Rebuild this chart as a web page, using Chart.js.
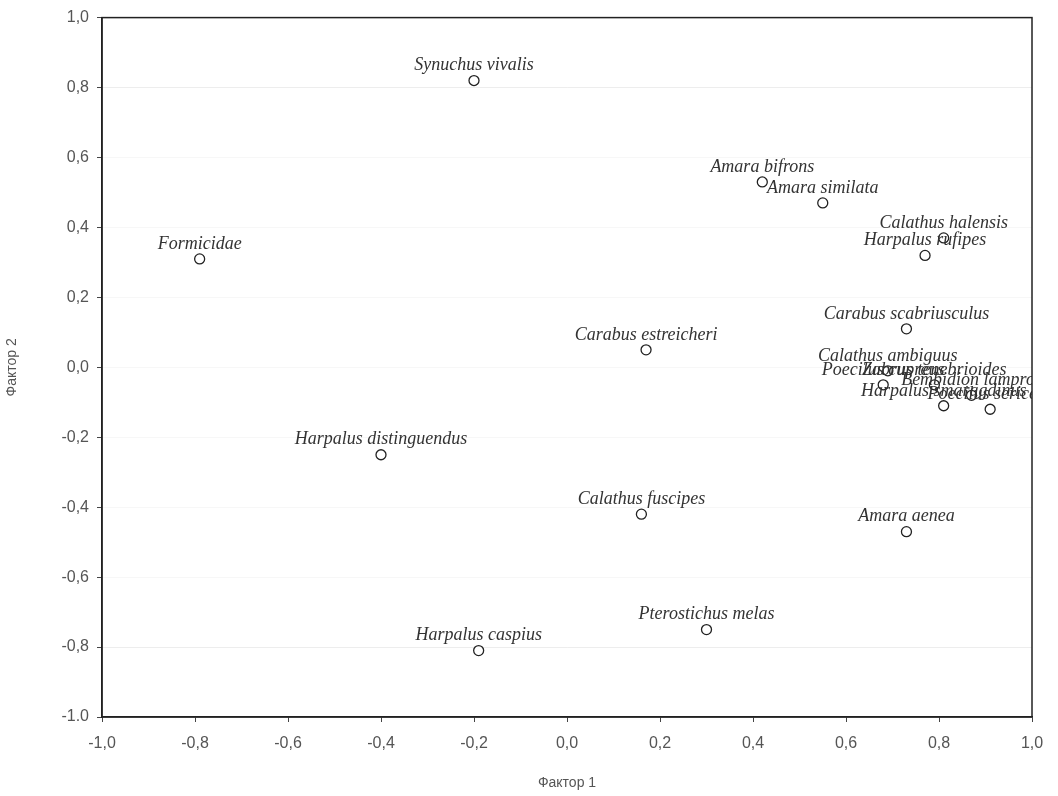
<!DOCTYPE html>
<html>
<head>
<meta charset="utf-8">
<script src="https://cdn.jsdelivr.net/npm/chart.js@4.4.0/dist/chart.umd.min.js"></script>
<style>
  html, body { margin: 0; padding: 0; background: #fff; }
  #wrap { width: 1058px; height: 796px; }
</style>
</head>
<body>
<div id="wrap"><canvas id="chart" width="1058" height="796"></canvas></div>
<script>
// species names and their loadings on factor 1 / factor 2
var names = [
    'Synuchus vivalis', 'Amara bifrons', 'Amara similata', 'Calathus halensis',
    'Harpalus rufipes', 'Formicidae', 'Carabus scabriusculus', 'Carabus estreicheri',
    'Calathus ambiguus', 'Poecilus cupreus', 'Zabrus tenebrioides', 'Bembidion lampros',
    'Harpalus smaragdinus', 'Poecilus sericeus', 'Harpalus distinguendus',
    'Calathus fuscipes', 'Amara aenea', 'Pterostichus melas', 'Harpalus caspius'
];
var factor1 = [-0.20, 0.42, 0.55, 0.81, 0.77, -0.79, 0.73, 0.17,
               0.69, 0.68, 0.79, 0.87, 0.81, 0.91, -0.40, 0.16, 0.73, 0.30, -0.19];
var factor2 = [0.82, 0.53, 0.47, 0.37, 0.32, 0.31, 0.11, 0.05,
               -0.01, -0.05, -0.05, -0.08, -0.11, -0.12, -0.25, -0.42, -0.47, -0.75, -0.81];
var tickValues = [-1.0, -0.8, -0.6, -0.4, -0.2, 0.0, 0.2, 0.4, 0.6, 0.8, 1.0];

var points = [];
for (var i = 0; i < names.length; i++) {
    points.push({ x: factor1[i], y: factor2[i] });
}

function fmt(v) {
    return v.toFixed(1).replace('.', ',');
}

// labels above each point, clipped to the plot frame like the original
var labelPlugin = {
    id: 'pointLabels',
    afterDatasetsDraw: function(chart) {
        var ctx = chart.ctx;
        var area = chart.chartArea;
        var meta = chart.getDatasetMeta(0);
        ctx.save();
        ctx.beginPath();
        ctx.rect(area.left, area.top, area.right - area.left, area.bottom - area.top);
        ctx.clip();
        ctx.font = 'italic 18px "Liberation Serif", "DejaVu Serif", serif';
        ctx.fillStyle = '#333';
        ctx.textAlign = 'center';
        ctx.textBaseline = 'bottom';
        meta.data.forEach(function(pt, idx) {
            ctx.fillText(names[idx], pt.x, pt.y - 6);
        });
        ctx.restore();
    }
};

// full box around the plot
var framePlugin = {
    id: 'frame',
    afterDraw: function(chart) {
        var ctx = chart.ctx;
        var a = chart.chartArea;
        ctx.save();
        ctx.strokeStyle = '#222';
        ctx.lineWidth = 1.5;
        ctx.strokeRect(a.left, a.top, a.right - a.left, a.bottom - a.top);
        ctx.restore();
    }
};

var tickFont = { family: '"Liberation Sans", Arial, sans-serif', size: 16 };

new Chart(document.getElementById('chart').getContext('2d'), {
    type: 'scatter',
    data: {
        datasets: [{
            data: points,
            pointStyle: 'circle',
            pointRadius: 5,
            pointHoverRadius: 5,
            pointBackgroundColor: '#fff',
            pointBorderColor: '#222',
            pointBorderWidth: 1.3
        }]
    },
    options: {
        responsive: false,
        animation: false,
        events: [],
        layout: { padding: { top: 17, right: 26, left: 0, bottom: 0 } },
        plugins: {
            legend: { display: false },
            tooltip: { enabled: false }
        },
        scales: {
            x: {
                min: -1, max: 1,
                afterBuildTicks: function(scale) {
                    scale.ticks = tickValues.map(function(v) { return { value: v }; });
                },
                afterFit: function(scale) { scale.height = 79; },
                grid: {
                    color: 'rgba(0,0,0,0.05)',
                    tickColor: '#444',
                    tickLength: 5,
                    drawOnChartArea: false
                },
                border: { color: '#222', width: 1.5 },
                ticks: {
                    font: tickFont,
                    color: '#555',
                    padding: 12,
                    maxRotation: 0,
                    callback: function(v) { return fmt(v); }
                },
                title: {
                    display: true,
                    text: 'Фактор 1',
                    font: { family: '"Liberation Sans", Arial, sans-serif', size: 14 },
                    color: '#555',
                    padding: { top: 8 }
                }
            },
            y: {
                min: -1, max: 1,
                afterBuildTicks: function(scale) {
                    scale.ticks = tickValues.map(function(v) { return { value: v }; });
                },
                afterFit: function(scale) { scale.width = 102; },
                grid: {
                    color: function(c) {
                        return (c.tick && (c.tick.value === 0.8 || c.tick.value === -0.8)) ? 'rgba(0,0,0,0.07)' : 'rgba(0,0,0,0.03)';
                    },
                    tickColor: '#444',
                    tickLength: 5
                },
                border: { color: '#222', width: 1.5 },
                ticks: {
                    font: tickFont,
                    color: '#555',
                    padding: 8,
                    callback: function(v) {
                        return v === -1 ? '-1.0' : fmt(v);
                    }
                },
                title: {
                    display: true,
                    text: 'Фактор 2',
                    font: { family: '"Liberation Sans", Arial, sans-serif', size: 14 },
                    color: '#555',
                    padding: { bottom: 14 }
                }
            }
        }
    },
    plugins: [labelPlugin, framePlugin]
});
</script>
</body>
</html>
